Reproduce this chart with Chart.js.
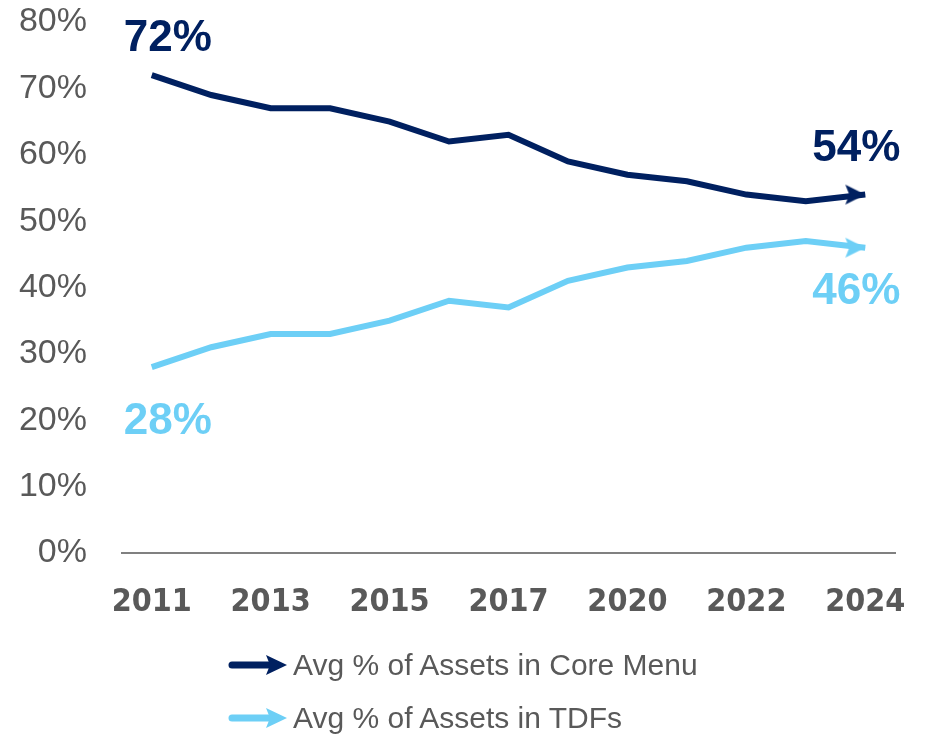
<!DOCTYPE html>
<html>
<head>
<meta charset="utf-8">
<script src="https://cdn.jsdelivr.net/npm/chart.js@4"></script>
<style>
  body { margin: 0; background: #fff; }
  #wrap { position: relative; width: 925px; height: 630px; }
  #legend { margin: 8px 0 0 0; padding: 0 0 0 228px; list-style: none; font-family: "Liberation Sans", Arial, sans-serif; font-size: 30px; color: #595959; }
  #legend li { display: flex; align-items: center; height: 53px; }
  #legend canvas { margin-right: 5px; }
</style>
</head>
<body>
<div id="wrap"><canvas id="Chart"></canvas></div>
<ul id="legend"></ul>
<script>
var years = ["2011", "2012", "2013", "2014", "2015", "2016", "2017", "2019", "2020", "2021", "2022", "2023", "2024"];
var coreMenu = [72, 69, 67, 67, 65, 62, 63, 59, 57, 56, 54, 53, 54];
var tdfs = [28, 31, 33, 33, 35, 38, 37, 41, 43, 44, 46, 47, 46];
var yTicks = [0, 10, 20, 30, 40, 50, 60, 70, 80];
var labelCore = "Avg % of Assets in Core Menu";
var labelTdf = "Avg % of Assets in TDFs";
var darkBlue = "#002060";
var lightBlue = "#6dcff6";

// arrow head whose tip sits in the middle of the image
function arrowHead(color) {
  var c = document.createElement("canvas");
  c.width = 44;
  c.height = 22;
  var g = c.getContext("2d");
  g.fillStyle = color;
  g.beginPath();
  g.moveTo(22, 11);
  g.lineTo(2, 1);
  g.lineTo(6, 11);
  g.lineTo(2, 21);
  g.closePath();
  g.fill();
  return c;
}

function legendIcon(color) {
  var c = document.createElement("canvas");
  c.width = 60;
  c.height = 22;
  var g = c.getContext("2d");
  g.strokeStyle = color;
  g.lineWidth = 7;
  g.lineCap = "round";
  g.beginPath();
  g.moveTo(4, 11);
  g.lineTo(42, 11);
  g.stroke();
  g.fillStyle = color;
  g.beginPath();
  g.moveTo(59, 11);
  g.lineTo(38, 1);
  g.lineTo(42, 11);
  g.lineTo(38, 21);
  g.closePath();
  g.fill();
  return c;
}

function endPoints(color) {
  var head = arrowHead(color);
  return function (ctx) {
    return ctx.dataIndex === ctx.dataset.data.length - 1 ? head : "circle";
  };
}

// big value labels at the first and last point of each line
var endLabels = {
  id: "endLabels",
  afterDatasetsDraw: function (chart) {
    var g = chart.ctx;
    g.save();
    g.font = "bold 44px 'Liberation Sans', Arial, sans-serif";
    g.textAlign = "center";
    g.textBaseline = "middle";
    chart.data.datasets.forEach(function (ds, i) {
      var meta = chart.getDatasetMeta(i);
      var above = i === 0;
      g.fillStyle = ds.borderColor;
      var first = meta.data[0];
      var last = meta.data[meta.data.length - 1];
      g.fillText(ds.data[0] + "%", first.x + 16, first.y + (above ? -36 : 55));
      g.fillText(ds.data[ds.data.length - 1] + "%", last.x - 9, last.y + (above ? -46 : 44));
    });
    g.restore();
  },
};

function initializeChart() {
  var ctx = document.getElementById("Chart").getContext("2d");
  if (window.myChart) window.myChart.destroy();

  window.myChart = new Chart(ctx, {
    type: "line",
    data: {
      labels: years,
      datasets: [
        {
          label: labelCore,
          data: coreMenu,
          borderColor: darkBlue,
          backgroundColor: darkBlue,
          borderWidth: 6,
          tension: 0,
          pointStyle: endPoints(darkBlue),
          pointRadius: function (c) { return c.dataIndex === coreMenu.length - 1 ? 11 : 0; },
          pointHoverRadius: 0,
        },
        {
          label: labelTdf,
          data: tdfs,
          borderColor: lightBlue,
          backgroundColor: lightBlue,
          borderWidth: 6,
          tension: 0,
          pointStyle: endPoints(lightBlue),
          pointRadius: function (c) { return c.dataIndex === tdfs.length - 1 ? 11 : 0; },
          pointHoverRadius: 0,
        },
      ],
    },
    plugins: [endLabels],
    options: {
      animation: false,
      responsive: true,
      maintainAspectRatio: false,
      layout: { padding: { top: 22, right: 30, left: 0, bottom: 0 } },
      scales: {
        y: {
          min: 0,
          max: 80,
          afterBuildTicks: function (s) {
            s.ticks = yTicks.map(function (v) { return { value: v }; });
          },
          afterFit: function (s) {
            s.width = 122;
            s.paddingTop = 0;
            s.paddingBottom = 0;
          },
          grid: { display: false },
          border: { display: false },
          ticks: {
            padding: 27,
            color: "#595959",
            font: { size: 34, family: "'Liberation Sans', Arial, sans-serif" },
            callback: function (v) { return v + "%"; },
          },
        },
        x: {
          offset: true,
          afterFit: function (s) {
            s.height = 77;
            s.paddingLeft = 0;
            s.paddingRight = 0;
          },
          grid: { display: false, drawTicks: false },
          border: { display: true, color: "#808080", width: 2 },
          ticks: {
            autoSkip: false,
            maxRotation: 0,
            padding: 30,
            color: "#595959",
            font: { size: 32, weight: "bold", family: "'Liberation Sans Narrow', 'DejaVu Sans Condensed', sans-serif" },
            callback: function (v, i) { return i % 2 === 0 ? years[i] : ""; },
          },
        },
      },
      plugins: {
        legend: { display: false },
        tooltip: { enabled: false },
      },
    },
  });

  var ul = document.getElementById("legend");
  ul.innerHTML = "";
  window.myChart.data.datasets.forEach(function (ds) {
    var li = document.createElement("li");
    li.appendChild(legendIcon(ds.borderColor));
    li.appendChild(document.createTextNode(ds.label));
    ul.appendChild(li);
  });
}

window.onload = function () {
  initializeChart();
};
</script>
</body>
</html>
